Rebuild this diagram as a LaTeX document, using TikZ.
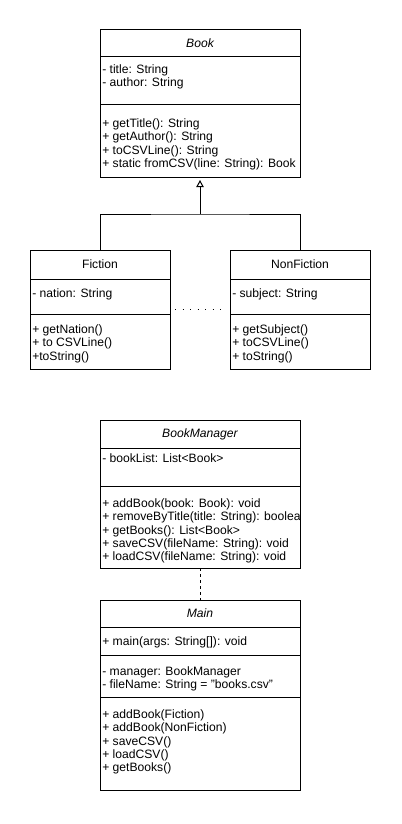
\documentclass[tikz,border=0pt]{standalone}
\usepackage{fontspec}
\setmainfont{Liberation Sans}
\usetikzlibrary{arrows.meta, positioning, calc}

\tikzset{
  part/.style={draw, line width=0.75pt, anchor=north west, inner sep=0pt, outer sep=0pt, minimum width=150pt},
  small/.style={part, minimum width=105pt},
  heading/.style={font=\fontsize{9.1}{10}\selectfont},
  members/.style={anchor=north west, inner sep=0pt, align=left, font=\fontsize{9.1}{10}\selectfont},
  link/.style={line width=0.75pt},
  inherit/.style={link, -{Triangle[open, length=5.25pt, width=5.5pt]}, shorten >=2.25pt},
  dots/.style={link, dash pattern=on 0.75pt off 4.9pt},
  depends/.style={link, dash pattern=on 2.25pt off 2.25pt}
}

\begin{document}
\begin{tikzpicture}[x=0.75pt, y=-0.75pt]
  \useasboundingbox (0,0) rectangle (401,824);

  % Book
  \node[part, minimum height=20.25pt, heading] (book-head) at (100,30) {\itshape Book};
  \node[part, minimum height=35.25pt] (book-attr) at (book-head.south west) {};
  \node[part, minimum height=54.75pt] (book-ops) at (book-attr.south west) {};
  \node[members] (book-attr-txt) at ([shift={(2,7)}]book-attr.north west) {\strut- title: String\\- author: String};
  \node[members] (book-ops-txt) at ([shift={(2,14)}]book-ops.north west) {\strut+ getTitle(): String\\+ getAuthor(): String\\+ toCSVLine(): String\\+ static fromCSV(line: String): Book};

  % Fiction
  \node[small, minimum height=21.75pt, heading] (fiction-head) at (30,250) {Fiction};
  \node[small, minimum height=26.25pt] (fiction-attr) at (fiction-head.south west) {};
  \node[small, minimum height=41.25pt] (fiction-ops) at (fiction-attr.south west) {};
  \node[members] (fiction-attr-txt) at ([shift={(2,9)}]fiction-attr.north west) {\strut- nation: String};
  \node[members] (fiction-ops-txt) at ([shift={(2,10)}]fiction-ops.north west) {\strut+ getNation()\\+ to CSVLine()\\+toString()};

  % NonFiction
  \node[small, minimum height=21.75pt, heading] (nonfiction-head) at (230,250) {NonFiction};
  \node[small, minimum height=26.25pt] (nonfiction-attr) at (nonfiction-head.south west) {};
  \node[small, minimum height=41.25pt] (nonfiction-ops) at (nonfiction-attr.south west) {};
  \node[members] (nonfiction-attr-txt) at ([shift={(2,9)}]nonfiction-attr.north west) {\strut- subject: String};
  \node[members] (nonfiction-ops-txt) at ([shift={(2,10)}]nonfiction-ops.north west) {\strut+ getSubject()\\+ toCSVLine()\\+ toString()};

  % generalisation
  \coordinate (joint) at (200,214);
  \draw[link] (fiction-head.north) |- (joint) -| (nonfiction-head.north);
  \draw[inherit] (joint) -- (book-ops.south);
  \draw[dots] ([shift={(5,-5)}]fiction-attr.south east) -- ([shift={(-5,-5)}]nonfiction-attr.south west);

  % BookManager
  \node[part, minimum height=21pt, heading] (manager-head) at (100,420) {\itshape BookManager};
  \node[part, minimum height=28.5pt] (manager-attr) at (manager-head.south west) {};
  \node[part, minimum height=61.5pt] (manager-ops) at (manager-attr.south west) {};
  \node[members] (manager-attr-txt) at ([shift={(2,5)}]manager-attr.north west) {\strut- bookList: List<Book>};
  \begin{scope}
    \clip (manager-ops.north west) rectangle (manager-ops.south east);
    \node[members] (manager-ops-txt) at ([shift={(2,12)}]manager-ops.north west) {\strut+ addBook(book: Book): void\\+ removeByTitle(title: String): boolean\\+ getBooks(): List<Book>\\+ saveCSV(fileName: String): void\\+ loadCSV(fileName: String): void};
  \end{scope}

  % Main
  \node[part, minimum height=20.25pt, heading] (main-head) at (100,600) {\itshape Main};
  \node[part, minimum height=21pt] (main-entry) at (main-head.south west) {};
  \node[part, minimum height=31.5pt] (main-attr) at (main-entry.south west) {};
  \node[part, minimum height=69.75pt] (main-ops) at (main-attr.south west) {};
  \node[members] (main-entry-txt) at ([shift={(2,9)}]main-entry.north west) {\strut+ main(args: String[]): void};
  \node[members] (main-attr-txt) at ([shift={(2,11)}]main-attr.north west) {\strut- manager: BookManager\\- fileName: String = "books.csv"};
  \node[members] (main-ops-txt) at ([shift={(2,12)}]main-ops.north west) {\strut+ addBook(Fiction)\\+ addBook(NonFiction)\\+ saveCSV()\\+ loadCSV()\\+ getBooks()};

  \draw[depends] (manager-ops.south) -- (main-head.north);
\end{tikzpicture}
\end{document}
